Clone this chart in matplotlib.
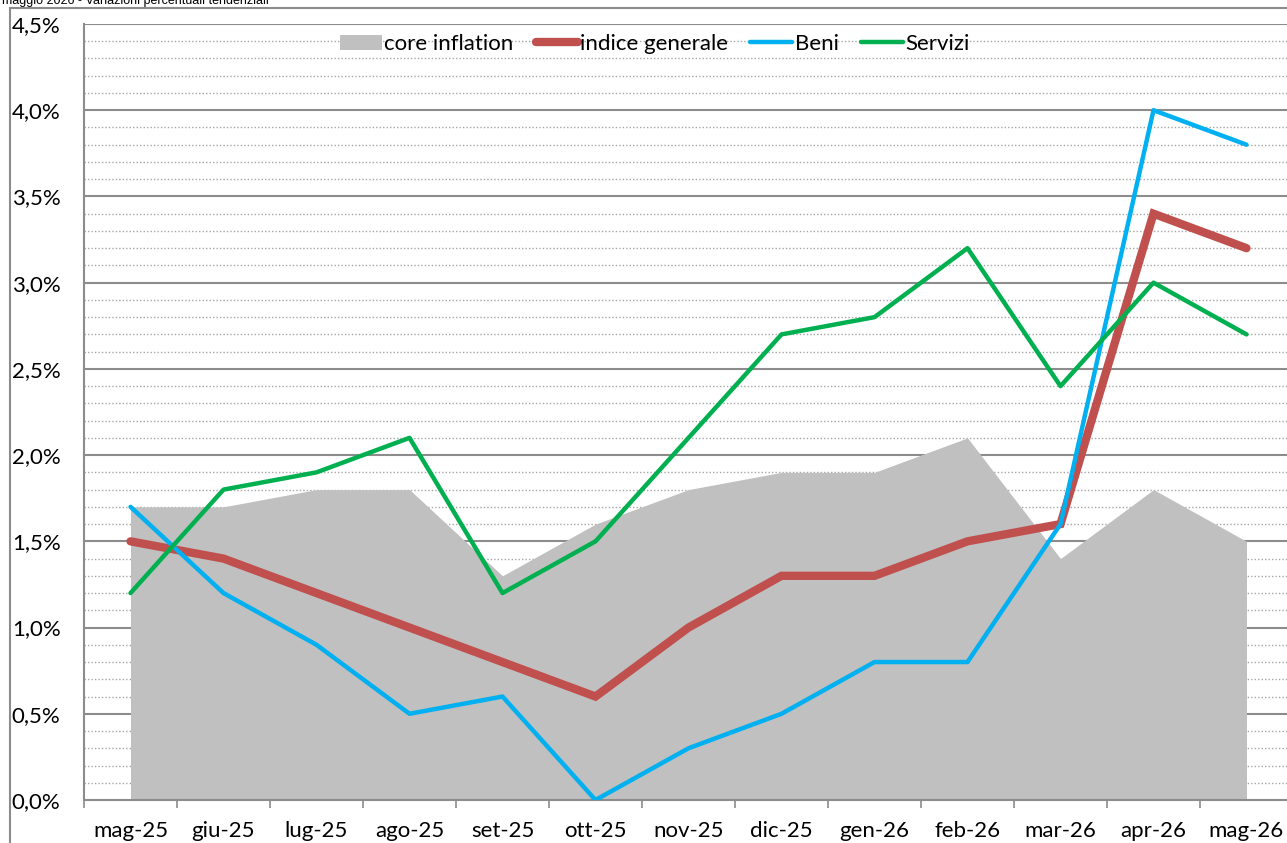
#!/usr/bin/env python
# Inflation chart: core inflation area + three series

import numpy as np
import matplotlib
matplotlib.use("Agg")
import matplotlib.pyplot as plt
from matplotlib.patches import Rectangle
from matplotlib.ticker import FixedLocator, FuncFormatter

months = ["mag-25", "giu-25", "lug-25", "ago-25", "set-25", "ott-25", "nov-25",
          "dic-25", "gen-26", "feb-26", "mar-26", "apr-26", "mag-26"]
coreInflation = [1.7, 1.7, 1.8, 1.8, 1.3, 1.6, 1.8, 1.9, 1.9, 2.1, 1.4, 1.8, 1.5]
indiceGenerale = [1.5, 1.4, 1.2, 1.0, 0.8, 0.6, 1.0, 1.3, 1.3, 1.5, 1.6, 3.4, 3.2]
beni = [1.7, 1.2, 0.9, 0.5, 0.6, 0.0, 0.3, 0.5, 0.8, 0.8, 1.6, 4.0, 3.8]
servizi = [1.2, 1.8, 1.9, 2.1, 1.2, 1.5, 2.1, 2.7, 2.8, 3.2, 2.4, 3.0, 2.7]

titleStr = "maggio 2026 - Variazioni percentuali tendenziali"

W, H = 1287, 843
fig = plt.figure(figsize=(W / 100.0, H / 100.0), dpi=100)

# outer chart frame
fig.patches.append(Rectangle((10 / W, -0.1), 1.2, 1 - 8 / H + 0.1,
                             transform=fig.transFigure, fill=False,
                             edgecolor="#8c8c8c", linewidth=1.5))
fig.text(2 / W, 1.0 - 1 / H, titleStr, fontsize=9, family="Liberation Sans",
         ha="left", va="center")

# plot area: x from 84 px; 12.5 at 1293 px; y 0 at 800, 4.5 at 24
left = 84 / W
right = 1293 / W
bottom = 1 - 800 / H
top = 1 - 24 / H
ax = fig.add_axes([left, bottom, right - left, top - bottom])

x = np.arange(len(months))
ax.fill_between(x, 0, coreInflation, color="#c0c0c0", linewidth=0,
                label="core inflation", zorder=2)
ax.plot(x, indiceGenerale, color="#c0504d", linewidth=6,
        solid_capstyle="round", solid_joinstyle="miter",
        label="indice generale", zorder=3)
ax.plot(x, beni, color="#00b0f0", linewidth=3.2, solid_capstyle="round",
        label="Beni", zorder=4)
ax.plot(x, servizi, color="#00b050", linewidth=3.2, solid_capstyle="round",
        label="Servizi", zorder=5)

ax.set_xlim(-0.5, len(months) - 0.5)
ax.set_ylim(0, 4.5)

# gridlines
ax.set_axisbelow(True)
for v in np.arange(0.1, 4.5, 0.1):
    if abs(v * 2 - round(v * 2)) < 1e-6:
        continue
    ax.axhline(v, color="#a6a6a6", linewidth=1.0, linestyle=(0, (1, 1.5)), zorder=0)
for v in np.arange(0.5, 4.51, 0.5):
    ax.axhline(v, color="#8c8c8c", linewidth=1.5, zorder=0)

# y axis, labels left-aligned at the frame
ax.set_yticks(np.arange(0, 4.51, 0.5))
ax.yaxis.set_major_formatter(FuncFormatter(lambda v, p: ("%.1f%%" % v).replace(".", ",")))
ax.tick_params(axis="y", length=0, pad=52, labelsize=16)
for lab in ax.get_yticklabels():
    lab.set_horizontalalignment("left")

# x axis: ticks at boundaries, labels at centres
ax.xaxis.set_major_locator(FixedLocator(np.arange(-0.5, len(months) - 0.5, 1.0)))
ax.xaxis.set_major_formatter(FuncFormatter(lambda v, p: ""))
ax.xaxis.set_minor_locator(FixedLocator(x))
ax.set_xticklabels(months, minor=True)
ax.tick_params(axis="x", which="major", length=6, width=1.2, color="#8c8c8c",
               direction="out")
ax.tick_params(axis="x", which="minor", length=0, pad=15, labelsize=16)

for lab in ax.get_xticklabels(minor=True) + ax.get_yticklabels():
    lab.set_family("Lato")

for side in ["top", "right"]:
    ax.spines[side].set_visible(False)
for side in ["left", "bottom"]:
    ax.spines[side].set_color("#8c8c8c")
    ax.spines[side].set_linewidth(1.5)

leg = ax.legend(loc="center", bbox_to_anchor=(0.472, 0.974), ncol=4,
                frameon=False, handlelength=1.9, handletextpad=0.1,
                columnspacing=1.0, borderpad=0,
                prop={"family": "Lato", "size": 16})

fig.savefig("out.png", dpi=100)
